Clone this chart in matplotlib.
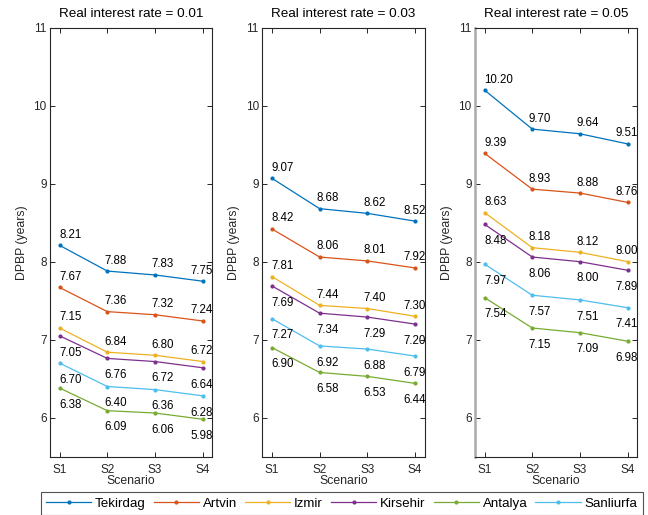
import matplotlib
matplotlib.use("Agg")
import matplotlib.pyplot as plt
from matplotlib.lines import Line2D

plt.rcParams['font.family'] = ['Liberation Sans', 'DejaVu Sans']
plt.rcParams['font.size'] = 8.5

# data
scenarios = ["S1", "S2", "S3", "S4"]
regions = ["Tekirdag", "Artvin", "Izmir", "Kirsehir", "Antalya", "Sanliurfa"]
rates = ["0.01", "0.03", "0.05"]

rate_001 = {
    "Tekirdag": [8.21, 7.88, 7.83, 7.75],
    "Artvin": [7.67, 7.36, 7.32, 7.24],
    "Izmir": [7.15, 6.84, 6.80, 6.72],
    "Kirsehir": [7.05, 6.76, 6.72, 6.64],
    "Antalya": [6.38, 6.09, 6.06, 5.98],
    "Sanliurfa": [6.70, 6.40, 6.36, 6.28],
}
rate_003 = {
    "Tekirdag": [9.07, 8.68, 8.62, 8.52],
    "Artvin": [8.42, 8.06, 8.01, 7.92],
    "Izmir": [7.81, 7.44, 7.40, 7.30],
    "Kirsehir": [7.69, 7.34, 7.29, 7.20],
    "Antalya": [6.90, 6.58, 6.53, 6.44],
    "Sanliurfa": [7.27, 6.92, 6.88, 6.79],
}
rate_005 = {
    "Tekirdag": [10.20, 9.70, 9.64, 9.51],
    "Artvin": [9.39, 8.93, 8.88, 8.76],
    "Izmir": [8.63, 8.18, 8.12, 8.00],
    "Kirsehir": [8.48, 8.06, 8.00, 7.89],
    "Antalya": [7.54, 7.15, 7.09, 6.98],
    "Sanliurfa": [7.97, 7.57, 7.51, 7.41],
}
panels = [rate_001, rate_003, rate_005]

colors = {
    "Tekirdag": "#0072BD",
    "Artvin": "#D95319",
    "Izmir": "#EDB120",
    "Kirsehir": "#7E2F8E",
    "Antalya": "#77AC30",
    "Sanliurfa": "#4DBEEE",
}
label_above = ["Tekirdag", "Artvin", "Izmir"]
x_shift = [0.0, -0.07, -0.08, -0.25]
dark = "#262626"

fig = plt.figure(figsize=(6.48, 5.15), dpi=100)
lefts = [0.0772, 0.4048, 0.733]
x = [1, 2, 3, 4]

for k, data in enumerate(panels):
    ax = fig.add_axes([lefts[k], 0.1132, 0.2505, 0.833])
    for r in regions:
        ax.plot(x, data[r], color=colors[r], lw=0.9, marker='.', ms=4)
        for i, v in enumerate(data[r]):
            if r in label_above:
                ax.text(x[i] + x_shift[i], v + 0.135, "%.2f" % v, ha='left',
                        va='center', fontsize=8.3, color='black', clip_on=True)
            else:
                ax.text(x[i] + x_shift[i], v - 0.215, "%.2f" % v, ha='left',
                        va='center', fontsize=8.3, color='black', clip_on=True)
    ax.set_xlim(0.8, 4.2)
    ax.set_ylim(5.5, 11)
    ax.set_xticks(x)
    ax.set_xticklabels(scenarios)
    ax.set_yticks([6, 7, 8, 9, 10, 11])
    ax.tick_params(direction='in', top=True, right=True, length=3.5, width=0.7,
                   colors=dark, labelsize=8.5, pad=2.5)
    ax.tick_params(axis='x', pad=5)
    for s in ax.spines.values():
        s.set_color(dark)
        s.set_linewidth(0.8)
    if k == 2:
        ax.spines['left'].set_color('#aaaaaa')
        ax.spines['left'].set_linewidth(1.8)
    ax.text(0.5, 1.032, "Real interest rate = " + rates[k], transform=ax.transAxes,
            ha='center', va='center', fontsize=9.7, color='black')
    ax.set_xlabel("Scenario", fontsize=8.8, color=dark)
    ax.xaxis.set_label_coords(0.5, -0.057)
    ax.xaxis.label.set_va('center')
    ax.set_ylabel("DPBP (years)", fontsize=8.8, color=dark)
    ax.yaxis.set_label_coords(-0.174, 0.5)
    ax.yaxis.label.set_va('center')

handles = [Line2D([], [], color=colors[r], lw=0.9, marker='.', ms=4) for r in regions]
leg = fig.legend(handles, regions, ncol=6, loc='upper left',
                 bbox_to_anchor=(40.7 / 648, 1 - 492.3 / 515), fontsize=9.6,
                 frameon=True, fancybox=False, edgecolor=dark, handlelength=3.38,
                 handletextpad=0.3, columnspacing=0.6, borderpad=0.4,
                 borderaxespad=0)
leg.get_frame().set_linewidth(0.8)

fig.savefig("out.png", dpi=100)
